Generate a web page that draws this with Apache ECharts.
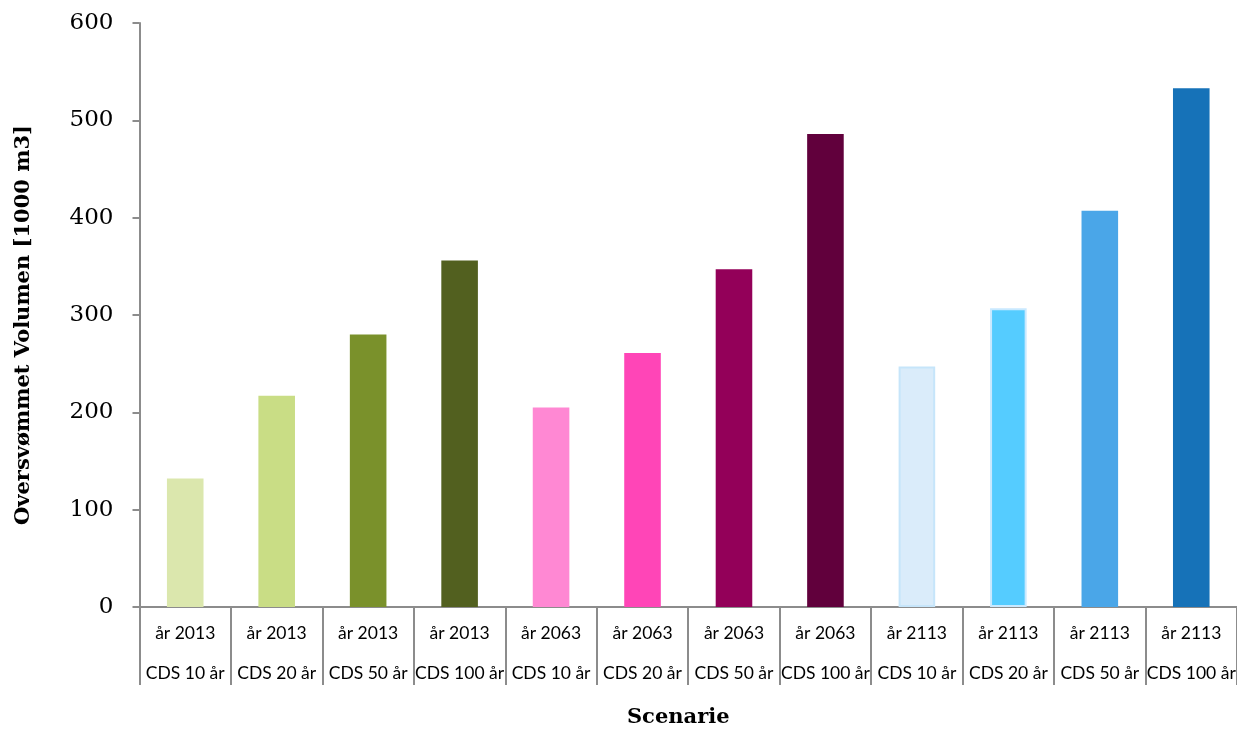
<!DOCTYPE html>
<html>
<head>
<meta charset="utf-8">
<script src="https://cdn.jsdelivr.net/npm/echarts@6/dist/echarts.min.js"></script>
<style>html,body{margin:0;padding:0;background:#fff}#c{width:1237px;height:730px}</style>
</head>
<body>
<div id="c"></div>
<script>
const years = ['år 2013','år 2013','år 2013','år 2013','år 2063','år 2063','år 2063','år 2063','år 2113','år 2113','år 2113','år 2113'];
const scenarios = ['CDS 10 år','CDS 20 år','CDS 50 år','CDS 100 år','CDS 10 år','CDS 20 år','CDS 50 år','CDS 100 år','CDS 10 år','CDS 20 år','CDS 50 år','CDS 100 år'];
const values = [132, 217, 280, 356, 205, 261, 347, 486, 247, 307, 407, 533];
const yTicks = [0, 100, 200, 300, 400, 500, 600];

const palette = ['#DBE7AD','#C9DD85','#7A912B','#52601F','#FF88D3','#FF45B7','#930059','#61003C','#DAECFA','#55CCFF','#4AA6E8','#1672B8'];
const borders = [null,null,null,null,null,null,null,null,'#C6E5FA','#C9E9FF',null,null];

const categories = years.map((y, i) => y + '\n' + scenarios[i]);

const chart = echarts.init(document.getElementById('c'), null, {renderer: 'canvas'});
chart.setOption({
  animation: false,
  backgroundColor: '#ffffff',
  grid: {left: 139.5, right: 0, top: 23, bottom: 123, containLabel: false, outerBoundsMode: 'none'},
  xAxis: {
    type: 'category',
    data: categories,
    name: 'Scenarie',
    nameLocation: 'middle',
    nameGap: 100,
    nameTextStyle: {fontFamily: 'DejaVu Serif', fontWeight: 'bold', fontSize: 21, color: '#000', padding: [0, 20, 0, 0]},
    axisLine: {lineStyle: {color: '#8c8c8c', width: 2}},
    axisTick: {show: true, alignWithLabel: false, length: 78, lineStyle: {color: '#8c8c8c', width: 2}},
    axisLabel: {
      interval: 0,
      margin: 6,
      fontFamily: 'Lato',
      fontSize: 17.5,
      color: '#000',
      lineHeight: 40
    },
    splitLine: {show: false}
  },
  yAxis: {
    type: 'value',
    min: 0, max: 600, interval: 100,
    name: 'Oversvømmet Volumen [1000 m3]',
    nameLocation: 'middle',
    nameGap: 105,
    nameTextStyle: {fontFamily: 'DejaVu Serif', fontWeight: 'bold', fontSize: 21, color: '#000', padding: [0, 20, 0, 0]},
    axisLine: {show: true, lineStyle: {color: '#8c8c8c', width: 2}},
    axisTick: {show: true, length: 7, lineStyle: {color: '#8c8c8c', width: 2}},
    axisLabel: {
      margin: 26,
      fontFamily: 'DejaVu Serif',
      fontSize: 23,
      color: '#000',
      formatter: v => yTicks.includes(v) ? String(v) : ''
    },
    splitLine: {show: false}
  },
  series: [{
    type: 'bar',
    barWidth: '40%',
    data: values.map((v, i) => ({
      value: v,
      itemStyle: borders[i] ? {color: palette[i], borderColor: borders[i], borderWidth: 2} : {color: palette[i]}
    }))
  }]
});
</script>
</body>
</html>
